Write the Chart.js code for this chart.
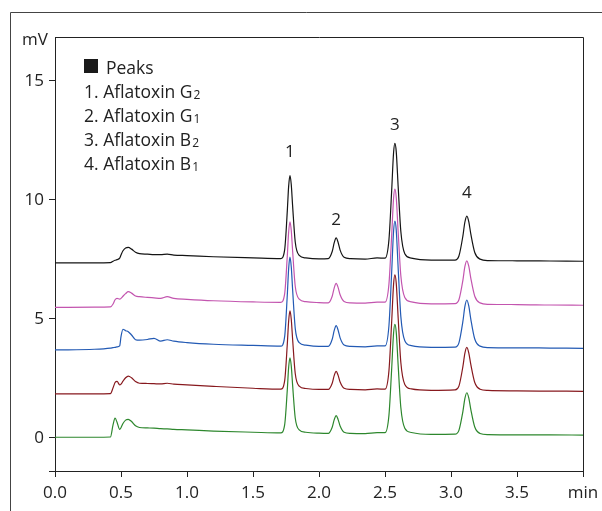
<!DOCTYPE html>
<html>
<head>
<meta charset="utf-8">
<script src="https://cdn.jsdelivr.net/npm/chart.js@4"></script>
<style>
  html, body { margin: 0; padding: 0; background: #fff; }
  canvas { display: block; }
</style>
</head>
<body>
<canvas id="myChart" width="602" height="511"></canvas>
<script>
// retention times (min), shared by all five traces
const times = [0, 0.3, 0.42, 0.44, 0.455, 0.47, 0.49, 0.50, 0.515, 0.535, 0.555, 0.58, 0.61, 0.64, 0.70, 0.75, 0.80, 0.85, 0.90, 1.0, 1.2, 1.5,
  1.71, 1.74, 1.76, 1.77, 1.78, 1.79, 1.80, 1.82, 1.85, 1.90, 2.0,
  2.07, 2.10, 2.115, 2.13, 2.145, 2.16, 2.19, 2.24, 2.35, 2.44,
  2.50, 2.53, 2.55, 2.565, 2.575, 2.585, 2.60, 2.62, 2.65, 2.70, 2.85,
  3.03, 3.06, 3.09, 3.105, 3.12, 3.135, 3.15, 3.18, 3.22, 3.28, 3.5, 3.75, 4.0];

// signal (mV)
const blackTrace = [7.35, 7.35, 7.36, 7.42, 7.46, 7.49, 7.55, 7.68, 7.86, 7.98, 8.00, 7.93, 7.80, 7.74, 7.72, 7.70, 7.70, 7.72, 7.68, 7.66, 7.61, 7.56,
  7.53, 7.91, 9.55, 10.57, 11.02, 10.64, 9.76, 8.23, 7.67, 7.56, 7.52,
  7.53, 7.83, 8.19, 8.40, 8.21, 7.89, 7.59, 7.53, 7.51, 7.56,
  7.55, 8.33, 10.33, 11.99, 12.38, 12.04, 10.53, 8.67, 7.74, 7.55, 7.47,
  7.47, 7.64, 8.48, 9.06, 9.32, 9.08, 8.57, 7.79, 7.51, 7.45, 7.44, 7.43, 7.42];

const magentaTrace = [5.48, 5.49, 5.50, 5.62, 5.80, 5.86, 5.83, 5.86, 5.95, 6.06, 6.14, 6.08, 5.96, 5.93, 5.90, 5.88, 5.86, 5.93, 5.86, 5.82, 5.76, 5.71,
  5.69, 6.06, 7.66, 8.64, 9.08, 8.71, 7.86, 6.37, 5.83, 5.72, 5.68,
  5.67, 5.95, 6.29, 6.49, 6.31, 6.01, 5.73, 5.67, 5.66, 5.70,
  5.70, 6.47, 8.44, 10.07, 10.45, 10.11, 8.63, 6.81, 5.90, 5.71, 5.63,
  5.64, 5.80, 6.62, 7.19, 7.44, 7.20, 6.71, 5.95, 5.67, 5.61, 5.60, 5.58, 5.57];

const blueTrace = [3.69, 3.72, 3.77, 3.79, 3.80, 3.82, 3.86, 4.25, 4.56, 4.50, 4.46, 4.32, 4.12, 4.10, 4.13, 4.18, 4.06, 4.12, 4.06, 4.00, 3.93, 3.88,
  3.85, 4.26, 6.02, 7.10, 7.59, 7.18, 6.24, 4.60, 4.00, 3.89, 3.84,
  3.84, 4.14, 4.50, 4.71, 4.52, 4.20, 3.90, 3.84, 3.82, 3.86,
  3.86, 4.72, 6.89, 8.69, 9.11, 8.74, 7.10, 5.09, 4.08, 3.87, 3.80,
  3.81, 3.99, 4.89, 5.51, 5.79, 5.53, 4.99, 4.15, 3.85, 3.79, 3.78, 3.77, 3.76];

const redTrace = [1.84, 1.84, 1.85, 2.10, 2.32, 2.37, 2.22, 2.25, 2.38, 2.52, 2.59, 2.52, 2.36, 2.29, 2.28, 2.27, 2.26, 2.29, 2.25, 2.22, 2.16, 2.08,
  2.04, 2.40, 3.95, 4.90, 5.33, 4.97, 4.15, 2.70, 2.17, 2.07, 2.03,
  2.03, 2.29, 2.61, 2.79, 2.62, 2.34, 2.08, 2.03, 2.01, 2.05,
  2.04, 2.82, 4.81, 6.46, 6.85, 6.51, 5.01, 3.16, 2.24, 2.05, 1.99,
  2.01, 2.17, 2.99, 3.55, 3.80, 3.56, 3.08, 2.32, 2.04, 1.99, 1.97, 1.96, 1.95];

const greenTrace = [0.02, 0.02, 0.03, 0.55, 0.82, 0.65, 0.35, 0.42, 0.60, 0.74, 0.77, 0.68, 0.50, 0.43, 0.41, 0.40, 0.38, 0.37, 0.35, 0.33, 0.28, 0.23,
  0.20, 0.55, 2.03, 2.95, 3.36, 3.01, 2.22, 0.83, 0.33, 0.23, 0.19,
  0.18, 0.44, 0.75, 0.93, 0.76, 0.49, 0.23, 0.18, 0.17, 0.21,
  0.21, 0.95, 2.84, 4.40, 4.77, 4.45, 3.02, 1.27, 0.40, 0.22, 0.14,
  0.15, 0.31, 1.10, 1.64, 1.89, 1.66, 1.19, 0.45, 0.18, 0.13, 0.12, 0.12, 0.11];

const xTicks = [0, 0.5, 1.0, 1.5, 2.0, 2.5, 3.0, 3.5, 4.0];
const xTickLabels = ['0.0', '0.5', '1.0', '1.5', '2.0', '2.5', '3.0', '3.5', 'min'];
const yTicks = [-1.4, 0, 5, 10, 15];
const yTickLabels = ['', '0', '5', '10', '15'];

// peak numbers above the top trace
const peakNames = ['1', '2', '3', '4'];
const peakTimes = [1.78, 2.13, 2.575, 3.12];
const peakLabelLevels = [12.0, 9.15, 13.15, 10.3];

// legend text: [main part, subscript]
const legendItems = [
  ['1. Aflatoxin G', '2'],
  ['2. Aflatoxin G', '1'],
  ['3. Aflatoxin B', '2'],
  ['4. Aflatoxin B', '1']
];

const FONT = '"Open Sans", "Noto Sans", sans-serif';
const TXT = '#222';

function toPoints(vals) {
  return vals.map((v, i) => ({ x: times[i], y: v }));
}

const traces = [
  { data: greenTrace, color: 'rgb(45,135,45)' },
  { data: redTrace, color: 'rgb(135,25,30)' },
  { data: blueTrace, color: 'rgb(35,90,180)' },
  { data: magentaTrace, color: 'rgb(195,85,175)' },
  { data: blackTrace, color: 'rgb(20,20,20)' }
];

const decor = {
  id: 'decor',
  afterDraw(chart) {
    const ctx = chart.ctx;
    const ca = chart.chartArea;
    const xs = chart.scales.x, ys = chart.scales.y;
    ctx.save();
    // outer frame, only left and top show
    ctx.strokeStyle = '#444';
    ctx.lineWidth = 1;
    ctx.beginPath();
    ctx.moveTo(10.5, 511);
    ctx.lineTo(10.5, 12.5);
    ctx.lineTo(602, 12.5);
    ctx.stroke();
    // top and right of the plot box
    ctx.strokeStyle = '#222';
    ctx.beginPath();
    ctx.moveTo(Math.round(ca.left) + 0.5, Math.round(ca.top) + 0.5);
    ctx.lineTo(Math.round(ca.right) + 0.5, Math.round(ca.top) + 0.5);
    ctx.lineTo(Math.round(ca.right) + 0.5, Math.round(ca.bottom) + 0.5);
    ctx.stroke();

    ctx.fillStyle = TXT;
    ctx.font = '17px ' + FONT;
    ctx.textBaseline = 'middle';
    ctx.textAlign = 'center';
    ctx.fillText('mV', 35, 40);

    // peak numbers
    peakNames.forEach((n, i) => {
      ctx.fillText(n, xs.getPixelForValue(peakTimes[i]), ys.getPixelForValue(peakLabelLevels[i]));
    });

    // legend
    ctx.fillStyle = '#1a1a1a';
    ctx.fillRect(84, 59, 14, 14);
    ctx.fillStyle = TXT;
    ctx.textAlign = 'left';
    ctx.textBaseline = 'alphabetic';
    ctx.font = '17.5px ' + FONT;
    ctx.fillText('Peaks', 106, 74);
    legendItems.forEach((it, i) => {
      const yb = 98 + i * 24;
      ctx.font = '17.5px ' + FONT;
      ctx.fillText(it[0], 84, yb);
      const w = ctx.measureText(it[0]).width;
      ctx.font = '12px ' + FONT;
      ctx.fillText(it[1], 84 + w + 1, yb + 1);
    });
    ctx.restore();
  }
};

Chart.defaults.font.family = FONT;
Chart.defaults.color = TXT;

const config = {
  type: 'line',
  data: {
    datasets: traces.map(t => ({
      data: toPoints(t.data),
      borderColor: t.color,
      borderWidth: 1.2,
      pointRadius: 0,
      fill: false,
      cubicInterpolationMode: 'monotone'
    }))
  },
  options: {
    responsive: false,
    animation: false,
    devicePixelRatio: 1,
    layout: { padding: { left: 0, right: 19, top: 37, bottom: 0 } },
    plugins: {
      legend: { display: false },
      tooltip: { enabled: false }
    },
    scales: {
      x: {
        type: 'linear',
        min: 0,
        max: 4,
        afterBuildTicks: s => { s.ticks = xTicks.map(v => ({ value: v })); },
        afterFit: s => { s.height = 40; s.paddingLeft = 0; s.paddingRight = 0; },
        ticks: {
          callback: (v, i) => xTickLabels[i],
          font: { size: 17 },
          color: TXT,
          padding: 6,
          maxRotation: 0,
          autoSkip: false
        },
        grid: { drawOnChartArea: false, drawTicks: true, tickLength: 6, color: '#222' },
        border: { display: true, color: '#222', width: 1 }
      },
      y: {
        min: -1.4,
        max: 16.85,
        afterBuildTicks: s => { s.ticks = yTicks.map(v => ({ value: v })); },
        afterFit: s => { s.width = 55; s.paddingTop = 0; s.paddingBottom = 0; },
        ticks: {
          callback: (v, i) => yTickLabels[i],
          font: { size: 17 },
          color: TXT,
          padding: 5
        },
        grid: { drawOnChartArea: false, drawTicks: true, tickLength: 6, color: '#222' },
        border: { display: true, color: '#222', width: 1 }
      }
    }
  },
  plugins: [decor]
};

const myChart = new Chart(document.getElementById('myChart'), config);
</script>
</body>
</html>
